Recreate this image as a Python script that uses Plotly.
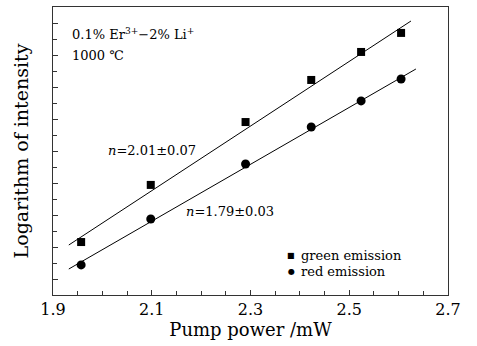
import plotly.graph_objects as go

# Data; y is log intensity in arbitrary units
pump_power = [1.957, 2.098, 2.29, 2.423, 2.524, 2.605]
green_log = [3.31, 6.88, 10.81, 13.44, 15.19, 16.38]
red_log = [1.88, 4.75, 8.19, 10.50, 12.13, 13.50]

# Fitted lines (end points)
green_fit_x = [1.932, 2.625]
green_fit_y = [3.125, 17.125]
red_fit_x = [1.932, 2.635]
red_fit_y = [1.625, 14.125]

x_ticks = [1.9, 2.1, 2.3, 2.5, 2.7]
series_names = ["green emission", "red emission"]
FONT = "DejaVu Serif"

fig = go.Figure()
fig.add_trace(go.Scatter(x=green_fit_x, y=green_fit_y, mode="lines",
                         line=dict(color="black", width=1), showlegend=False))
fig.add_trace(go.Scatter(x=red_fit_x, y=red_fit_y, mode="lines",
                         line=dict(color="black", width=1), showlegend=False))
fig.add_trace(go.Scatter(x=pump_power, y=green_log, mode="markers", name=series_names[0],
                         marker=dict(symbol="square", size=8, color="black"), showlegend=False))
fig.add_trace(go.Scatter(x=pump_power, y=red_log, mode="markers", name=series_names[1],
                         marker=dict(symbol="circle", size=9, color="black"), showlegend=False))

ann_font = dict(family=FONT, size=13, color="black")
fig.add_annotation(x=1.935, y=16.3, xref="x", yref="y", xanchor="left", yanchor="middle",
                   text="0.1% Er<sup>3+</sup>\u22122% Li<sup>+</sup>", showarrow=False, font=ann_font)
fig.add_annotation(x=1.935, y=15.0, xref="x", yref="y", xanchor="left", yanchor="middle",
                   text="1000 \u2103", showarrow=False, font=ann_font)
fig.add_annotation(x=2.007, y=9.05, xref="x", yref="y", xanchor="left", yanchor="middle",
                   text="<i>n</i>=2.01\u00b10.07", showarrow=False, font=ann_font)
fig.add_annotation(x=2.165, y=5.2, xref="x", yref="y", xanchor="left", yanchor="middle",
                   text="<i>n</i>=1.79\u00b10.03", showarrow=False, font=ann_font)

# legend drawn as text
legend_y = [2.5, 1.5]
legend_sym = ["\u25a0", "\u25cf"]
for name, yy, sym in zip(series_names, legend_y, legend_sym):
    fig.add_annotation(x=2.383, y=yy, xref="x", yref="y", xanchor="center", yanchor="middle",
                       text=sym, showarrow=False, font=dict(family=FONT, size=8, color="black"))
    fig.add_annotation(x=2.399, y=yy, xref="x", yref="y", xanchor="left", yanchor="middle",
                       text=name, showarrow=False, font=ann_font)

fig.update_layout(
    width=477, height=346,
    margin=dict(l=53, r=29, t=7, b=51),
    paper_bgcolor="white", plot_bgcolor="white",
    font=dict(family=FONT, color="black"),
    showlegend=False,
)
fig.update_xaxes(
    range=[1.9, 2.7], tickvals=x_ticks, ticktext=[f"{v:.1f}" for v in x_ticks],
    ticks="inside", ticklen=5, tickcolor="#333", tickwidth=1,
    minor=dict(dtick=0.05, tick0=1.9, ticks="inside", ticklen=4, tickcolor="#333", showgrid=False),
    showline=True, linecolor="#333", linewidth=1, mirror=True, showgrid=False, zeroline=False,
    tickfont=dict(family=FONT, size=16),
    title=dict(text="Pump power /mW", font=dict(family=FONT, size=18), standoff=4),
)
fig.update_yaxes(
    range=[0, 18], dtick=2, tick0=1, showticklabels=False,
    ticks="inside", ticklen=5, tickcolor="#333", tickwidth=1,
    minor=dict(dtick=1, tick0=0, ticks="inside", ticklen=4, tickcolor="#333", showgrid=False),
    showline=True, linecolor="#333", linewidth=1, mirror=True, showgrid=False, zeroline=False,
    title=dict(text="Logarithm of intensity", font=dict(family=FONT, size=19), standoff=18),
)

fig.write_html("out.html")
